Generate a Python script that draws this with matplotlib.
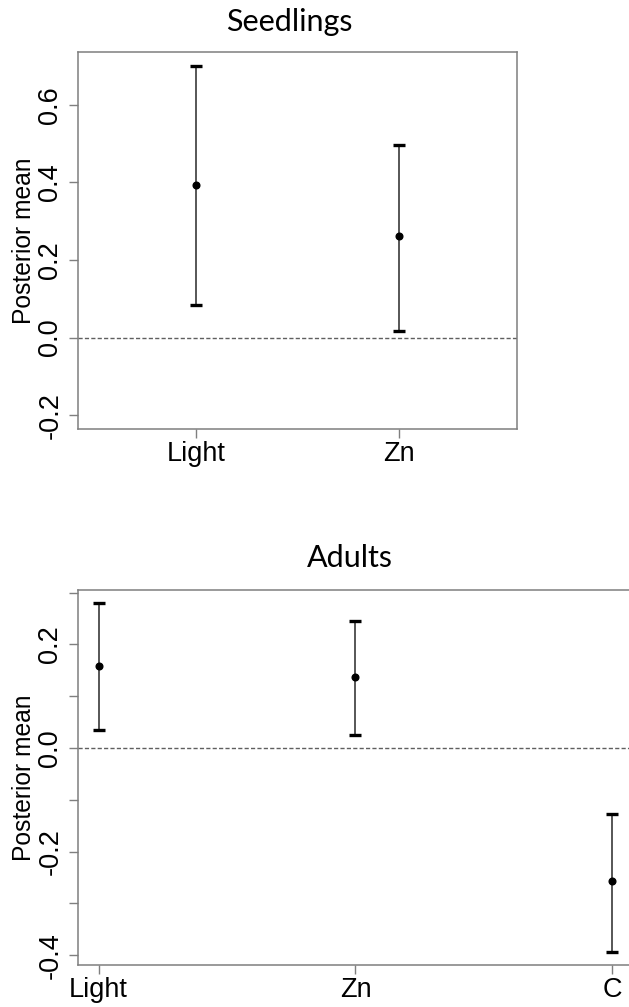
import numpy as np
import matplotlib
matplotlib.use("Agg")
import matplotlib.pyplot as plt

plt.rcParams['font.family'] = ['Liberation Sans', 'DejaVu Sans']

# posterior means and 95% intervals
seedling_labels = ['Light', 'Zn']
seedling_mean = [0.393, 0.261]
seedling_lower = [0.085, 0.018]
seedling_upper = [0.699, 0.497]

adult_labels = ['Light', 'Zn', 'C']
adult_mean = [0.158, 0.137, -0.257]
adult_lower = [0.035, 0.026, -0.393]
adult_upper = [0.279, 0.245, -0.127]

seedling_yticks = [-0.2, 0.0, 0.2, 0.4, 0.6]
adult_yticks = [-0.4, -0.2, 0.0, 0.2]
adult_yticks_minor = [-0.3, -0.1, 0.1, 0.3]

axis_col = '#7f7f7f'
bar_col = '#3a3a3a'


def style_axes(ax):
    for s in ax.spines.values():
        s.set_color(axis_col)
        s.set_linewidth(1.1)
    ax.tick_params(axis='both', which='both', direction='out', color=axis_col,
                   width=1.0, length=6.5, labelsize=19.5, labelcolor='black')
    ax.tick_params(axis='x', pad=2)
    ax.tick_params(axis='y', pad=4)
    for lab in ax.get_yticklabels():
        lab.set_rotation(90)
        lab.set_va('center')
    ax.set_ylabel('Posterior mean', fontsize=17.7, labelpad=1)


def draw_intervals(ax, mean, lower, upper):
    x = np.arange(1, len(mean) + 1)
    mean = np.array(mean)
    err = [mean - np.array(lower), np.array(upper) - mean]
    ax.errorbar(x, mean, yerr=err, fmt='none', ecolor=bar_col, elinewidth=1.2,
                capsize=0, zorder=3)
    # thick black caps
    ax.plot(x, lower, linestyle='none', marker='_', markersize=8.5,
            markeredgewidth=2.4, color='black', zorder=4)
    ax.plot(x, upper, linestyle='none', marker='_', markersize=8.5,
            markeredgewidth=2.4, color='black', zorder=4)
    ax.plot(x, mean, linestyle='none', marker='o', markersize=4.8,
            color='black', zorder=5)
    ax.axhline(0, color='#5f5f5f', linestyle=(0, (3.0, 1.6)), linewidth=1.0,
               zorder=2)


fig = plt.figure(figsize=(6.29, 10.07), dpi=100)

# Seedlings
ax1 = fig.add_axes([78/629, 1 - 428.7/1007, (517 - 78)/629, (428.7 - 52)/1007])
draw_intervals(ax1, seedling_mean, seedling_lower, seedling_upper)
ax1.set_xlim(0.42, 2.58)
ax1.set_ylim(-0.235, 0.736)
ax1.set_xticks([1, 2])
ax1.set_xticklabels(seedling_labels)
ax1.set_yticks(seedling_yticks)
ax1.set_yticklabels(['-0.2', '0.0', '0.2', '0.4', '0.6'])
style_axes(ax1)
fig.text(289/629, 1 - 31/1007, 'Seedlings', family=['Lato', 'DejaVu Sans'],
         fontsize=22, ha='center', va='baseline')

# Adults (right side runs past the figure edge)
ax2 = fig.add_axes([78/629, 1 - 965.3/1007, (633 - 78)/629, (965.3 - 590)/1007])
draw_intervals(ax2, adult_mean, adult_lower, adult_upper)
ax2.set_xlim(0.92, 3.08)
ax2.set_ylim(-0.4193, 0.305)
ax2.set_xticks([1, 2, 3])
ax2.set_xticklabels(adult_labels)
ax2.set_yticks(adult_yticks)
ax2.set_yticklabels(['-0.4', '-0.2', '0.0', '0.2'])
ax2.set_yticks(adult_yticks_minor, minor=True)
style_axes(ax2)
fig.text(349.5/629, 1 - 567/1007, 'Adults', family=['Lato', 'DejaVu Sans'],
         fontsize=22, ha='center', va='baseline')

fig.savefig('out.png', dpi=100)
